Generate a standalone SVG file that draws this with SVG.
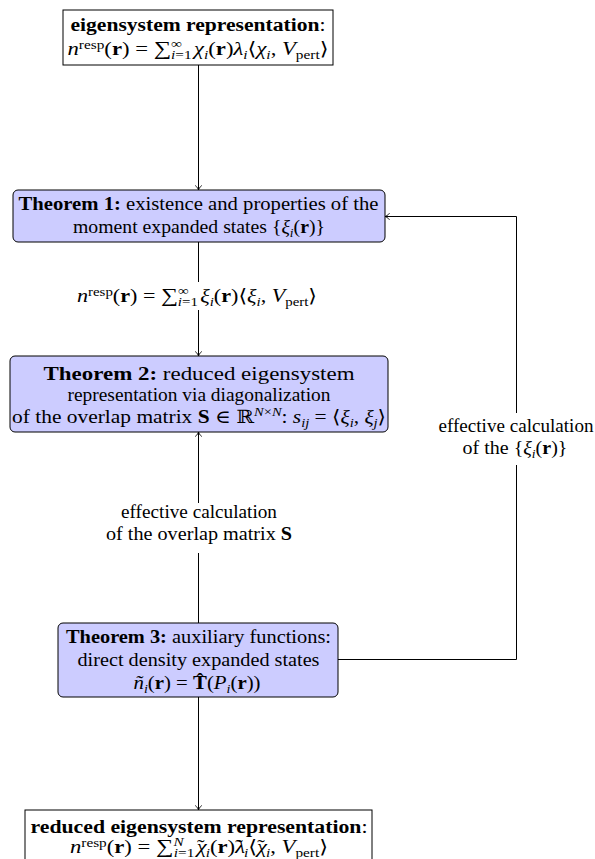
<svg xmlns="http://www.w3.org/2000/svg" width="595" height="859" viewBox="0 0 595 859">
  <style>
    .t { font-family: "Liberation Serif", "Times New Roman", Times, "DejaVu Serif", serif; font-size: 18.5px; fill: #000; text-anchor: middle; }
    .b { font-weight: bold; }
    .i { font-style: italic; }
    .s { font-size: 12.5px; }
    .box { fill: #fff; stroke: #000; stroke-width: 1; }
    .thm { fill: #ccccff; stroke: #000; stroke-width: 1; }
    .edge { fill: none; stroke: #000; stroke-width: 1; }
  </style>
  <defs>
    <marker id="to" viewBox="-6 -5 8 10" markerWidth="8" markerHeight="10" refX="0" refY="0" orient="auto" markerUnits="userSpaceOnUse">
      <path d="M-4.5,-3.3 C-3,-1.2 -1,-0.3 0,0 C-1,0.3 -3,1.2 -4.5,3.3" fill="none" stroke="#000" stroke-width="0.9"/>
    </marker>
  </defs>

  <!-- connectors -->
  <g id="connectors">
    <path class="edge" d="M198.5,65 V190" marker-end="url(#to)"/>
    <path class="edge" d="M198.5,242 V282"/>
    <path class="edge" d="M198.5,310 V356" marker-end="url(#to)"/>
    <path class="edge" d="M198.5,623 V553"/>
    <path class="edge" d="M198.5,503 V432" marker-end="url(#to)"/>
    <path class="edge" d="M198.5,697 V810" marker-end="url(#to)"/>
    <path class="edge" d="M338,659.5 H516.5 V465"/>
    <path class="edge" d="M516.5,413 V216.5 H385" marker-end="url(#to)"/>
  </g>

  <!-- edge labels -->
  <g id="labels">
    <text class="t" x="197" y="302" textLength="240" lengthAdjust="spacingAndGlyphs"><tspan class="i">n</tspan><tspan class="s" dy="-6">resp</tspan><tspan dy="6">(</tspan><tspan class="b">r</tspan>) = <tspan font-size="20">∑</tspan><tspan class="s" dy="-7">∞</tspan><tspan class="s i" dx="-9" dy="11">i</tspan><tspan class="s">=1</tspan><tspan class="i" dy="-4" dx="2">ξ</tspan><tspan class="s i" dy="4">i</tspan><tspan dy="-4">(</tspan><tspan class="b">r</tspan>)⟨<tspan class="i">ξ</tspan><tspan class="s i" dy="4">i</tspan><tspan dy="-4">, </tspan><tspan class="i">V</tspan><tspan class="s" dy="4">pert</tspan><tspan dy="-4">⟩</tspan></text>
    <text class="t" x="199" y="518" textLength="156" lengthAdjust="spacingAndGlyphs"><tspan>effective calculation</tspan></text>
    <text class="t" x="199" y="540" textLength="186" lengthAdjust="spacingAndGlyphs">of the overlap matrix <tspan class="b">S</tspan></text>
    <text class="t" x="516" y="432" textLength="155" lengthAdjust="spacingAndGlyphs"><tspan>effective calculation</tspan></text>
    <text class="t" x="515" y="454" textLength="105" lengthAdjust="spacingAndGlyphs">of the {<tspan class="i">ξ</tspan><tspan class="s i" dy="4">i</tspan><tspan dy="-4">(</tspan><tspan class="b">r</tspan>)}</text>
  </g>

  <!-- top: full eigensystem representation -->
  <g id="eigensystem">
    <rect class="box" x="63" y="10" width="270" height="55"/>
    <text class="t" x="198" y="31" textLength="255" lengthAdjust="spacingAndGlyphs"><tspan class="b">eigensystem representation</tspan>:</text>
    <text class="t" x="198" y="55" textLength="261" lengthAdjust="spacingAndGlyphs"><tspan class="i">n</tspan><tspan class="s" dy="-6">resp</tspan><tspan dy="6">(</tspan><tspan class="b">r</tspan>) = <tspan font-size="20">∑</tspan><tspan class="s" dy="-7">∞</tspan><tspan class="s i" dx="-9" dy="11">i</tspan><tspan class="s">=1</tspan><tspan class="i" dy="-4" dx="2">χ</tspan><tspan class="s i" dy="4">i</tspan><tspan dy="-4">(</tspan><tspan class="b">r</tspan>)<tspan class="i">λ</tspan><tspan class="s i" dy="4">i</tspan><tspan dy="-4">⟨</tspan><tspan class="i">χ</tspan><tspan class="s i" dy="4">i</tspan><tspan dy="-4">, </tspan><tspan class="i">V</tspan><tspan class="s" dy="4">pert</tspan><tspan dy="-4">⟩</tspan></text>
  </g>

  <!-- Theorem 1 -->
  <g id="theorem1">
    <rect class="thm" x="13" y="190" width="372" height="52" rx="5"/>
    <text class="t" x="198.5" y="210" textLength="360" lengthAdjust="spacingAndGlyphs"><tspan class="b">Theorem 1:</tspan> existence and properties of the</text>
    <text class="t" x="199" y="233" textLength="252" lengthAdjust="spacingAndGlyphs">moment expanded states {<tspan class="i">ξ</tspan><tspan class="s i" dy="4">i</tspan><tspan dy="-4">(</tspan><tspan class="b">r</tspan>)}</text>
  </g>

  <!-- Theorem 2 -->
  <g id="theorem2">
    <rect class="thm" x="10" y="356" width="378" height="76" rx="5"/>
    <text class="t" x="199" y="380" textLength="311" lengthAdjust="spacingAndGlyphs"><tspan class="b">Theorem 2:</tspan> reduced eigensystem</text>
    <text class="t" x="199" y="401" textLength="263" lengthAdjust="spacingAndGlyphs"><tspan>representation via diagonalization</tspan></text>
    <text class="t" x="199" y="423" textLength="374" lengthAdjust="spacingAndGlyphs">of the overlap matrix <tspan class="b">S</tspan> ∈ ℝ<tspan class="s" dy="-7"><tspan class="i">N</tspan>×<tspan class="i">N</tspan></tspan><tspan dy="7">:  </tspan><tspan class="i">s</tspan><tspan class="s i" dy="4">ij</tspan><tspan dy="-4"> = ⟨</tspan><tspan class="i">ξ</tspan><tspan class="s i" dy="4">i</tspan><tspan dy="-4">, </tspan><tspan class="i">ξ</tspan><tspan class="s i" dy="4">j</tspan><tspan dy="-4">⟩</tspan></text>
  </g>

  <!-- Theorem 3 -->
  <g id="theorem3">
    <rect class="thm" x="58" y="623" width="280" height="74" rx="5"/>
    <text class="t" x="198.5" y="643" textLength="265" lengthAdjust="spacingAndGlyphs"><tspan class="b">Theorem 3:</tspan><tspan> auxiliary functions:</tspan></text>
    <text class="t" x="198.5" y="666" textLength="242" lengthAdjust="spacingAndGlyphs"><tspan>direct density expanded states</tspan></text>
    <text class="t" x="197" y="689" textLength="127" lengthAdjust="spacingAndGlyphs"><tspan class="i">ñ</tspan><tspan class="s i" dy="4">i</tspan><tspan dy="-4">(</tspan><tspan class="b">r</tspan>) = <tspan class="b">T̂</tspan>(<tspan class="i">P</tspan><tspan class="s i" dy="4">i</tspan><tspan dy="-4">(</tspan><tspan class="b">r</tspan>))</text>
  </g>

  <!-- bottom: reduced eigensystem representation (tildes placed over chi and lambda) -->
  <g id="reduced">
    <rect class="box" x="25" y="810" width="347" height="60"/>
    <text class="t" x="199" y="833" textLength="337" lengthAdjust="spacingAndGlyphs"><tspan class="b">reduced eigensystem representation</tspan>:</text>
    <text class="t" x="199" y="853" textLength="258" lengthAdjust="spacingAndGlyphs"><tspan class="i">n</tspan><tspan class="s" dy="-6">resp</tspan><tspan dy="6">(</tspan><tspan class="b">r</tspan>) = <tspan font-size="20">∑</tspan><tspan class="s i" dy="-7">N</tspan><tspan class="s i" dx="-8" dy="11">i</tspan><tspan class="s">=1</tspan><tspan class="i" dy="-4" dx="2">χ</tspan><tspan dx="-8">˜</tspan><tspan class="s i" dx="1" dy="4">i</tspan><tspan dy="-4">(</tspan><tspan class="b">r</tspan>)<tspan class="i">λ</tspan><tspan dx="-8">˜</tspan><tspan class="s i" dx="1" dy="4">i</tspan><tspan dy="-4">⟨</tspan><tspan class="i">χ</tspan><tspan dx="-8">˜</tspan><tspan class="s i" dx="1" dy="4">i</tspan><tspan dy="-4">, </tspan><tspan class="i">V</tspan><tspan class="s" dy="4">pert</tspan><tspan dy="-4">⟩</tspan></text>
  </g>
</svg>
